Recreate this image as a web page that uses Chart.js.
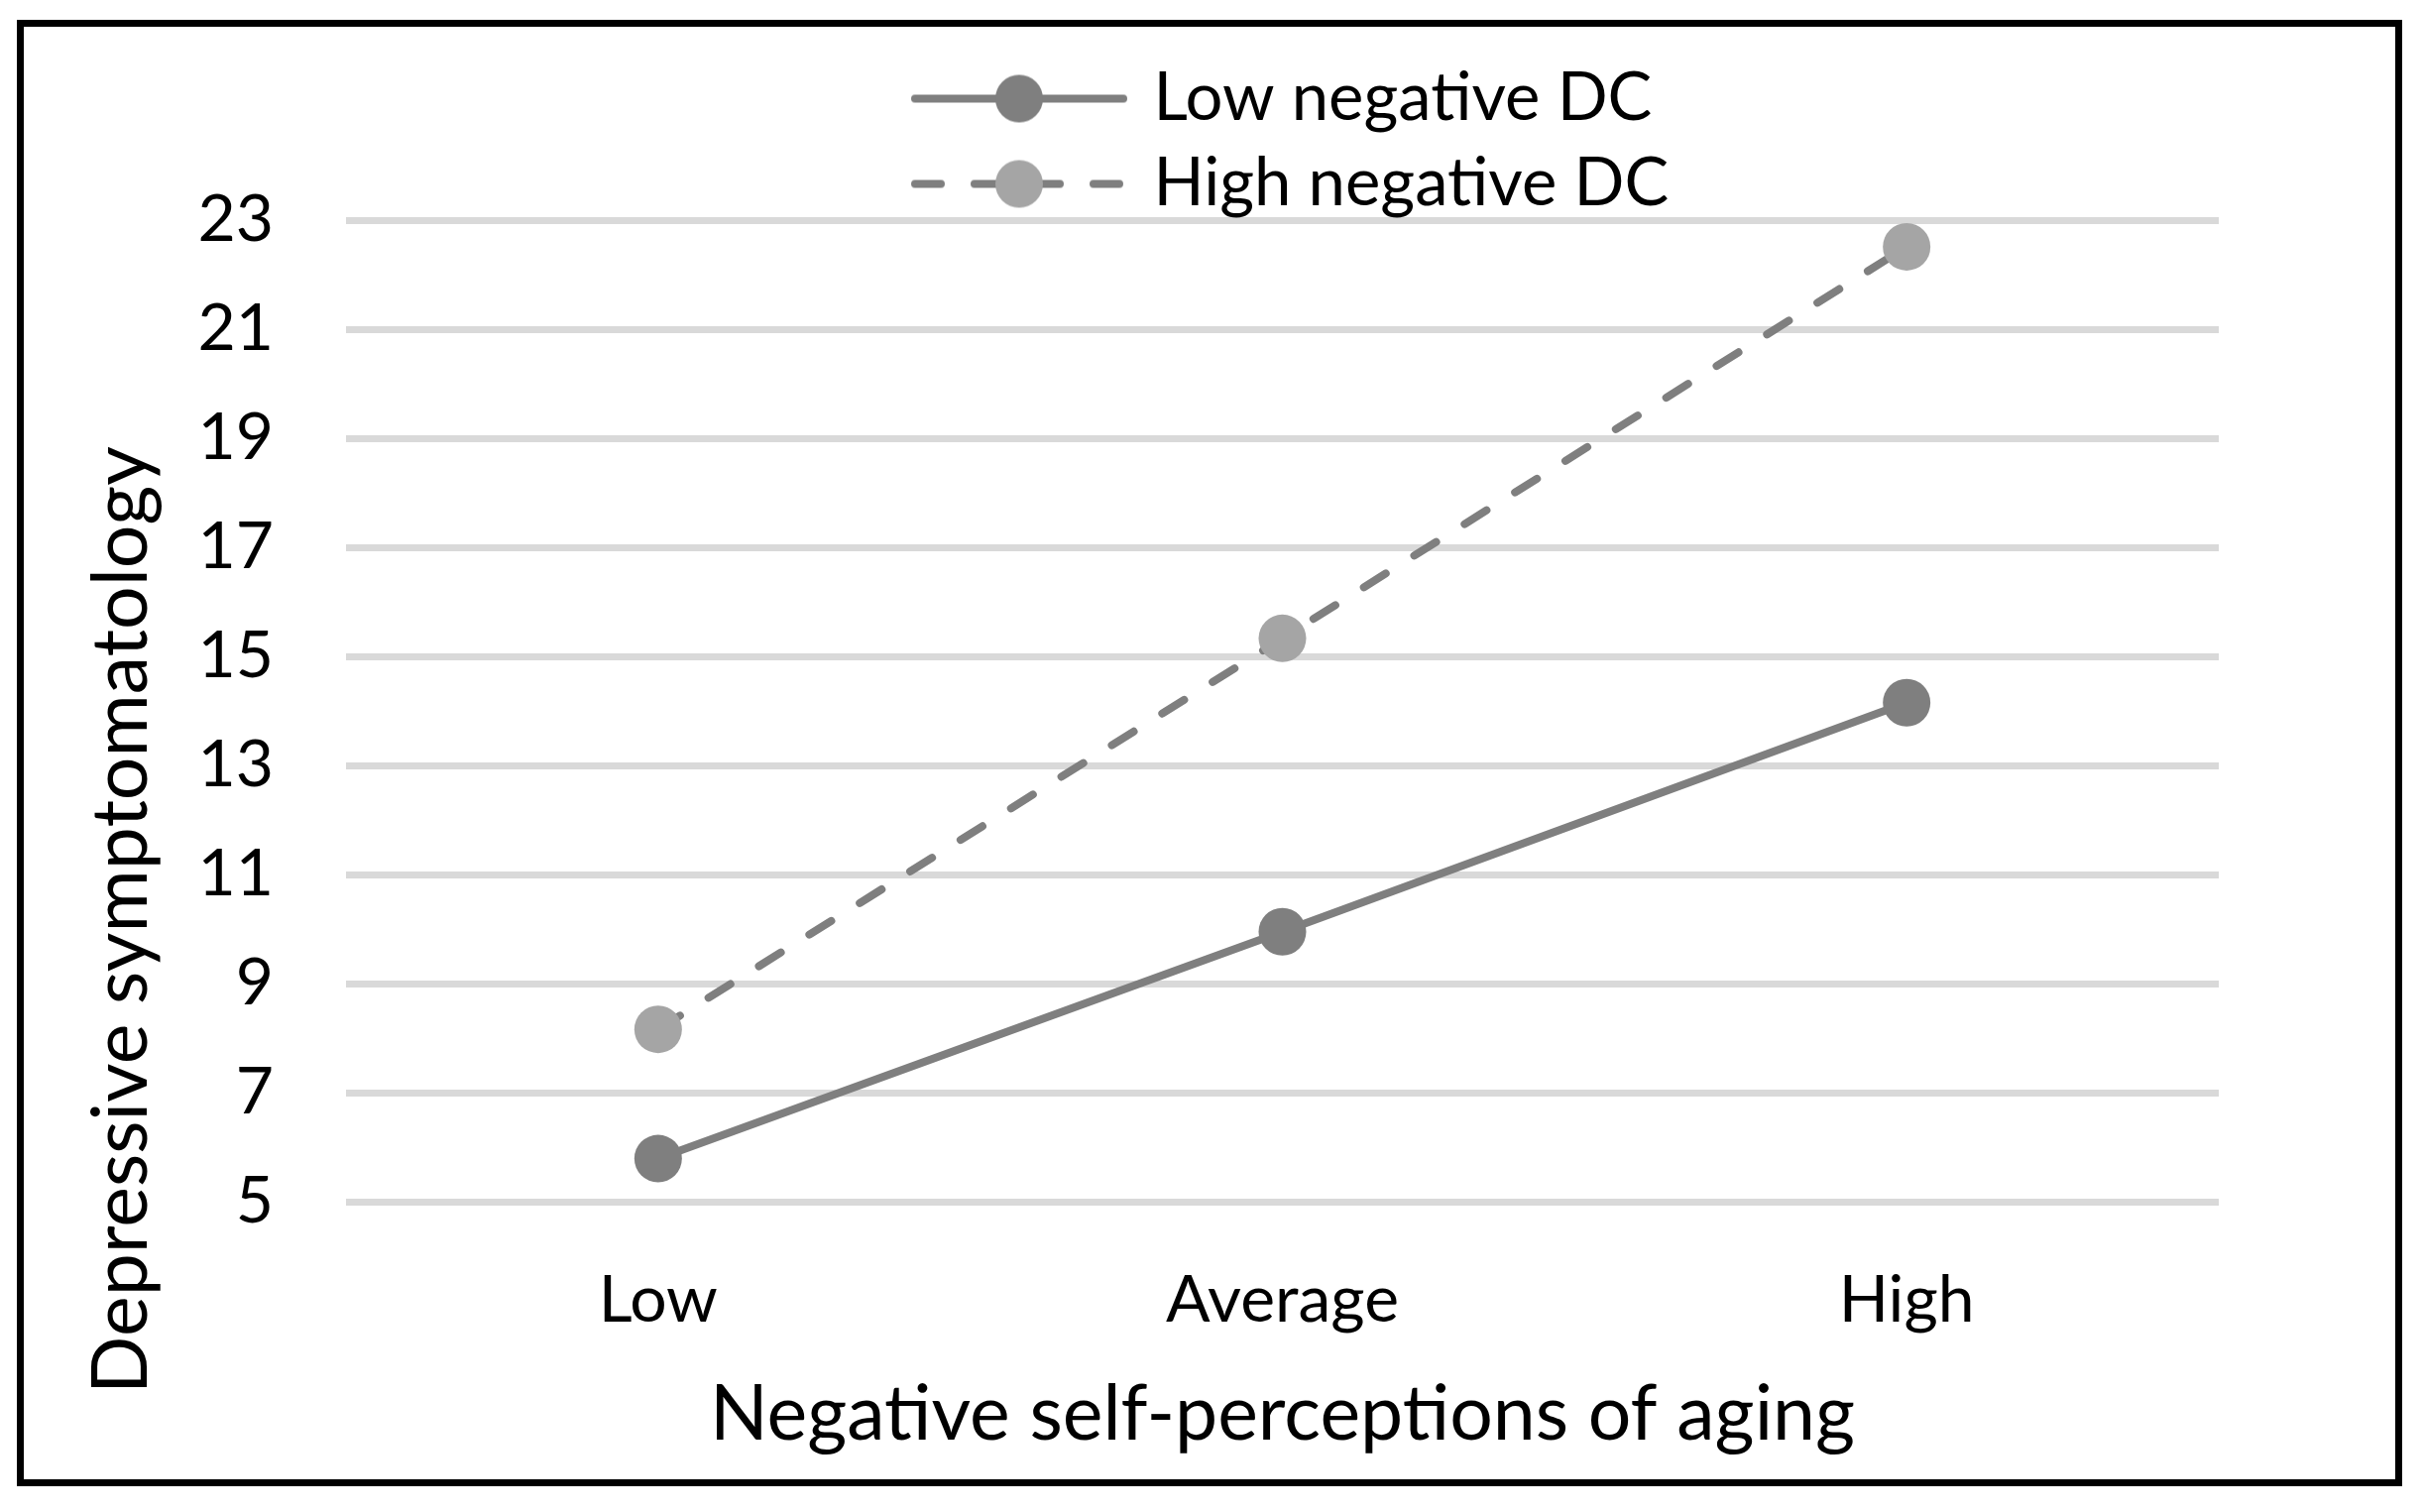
<!DOCTYPE html>
<html><head><meta charset="utf-8">
<script src="https://cdn.jsdelivr.net/npm/chart.js@4/dist/chart.umd.min.js"></script>
<style>html,body{margin:0;padding:0;background:#fff;} canvas{display:block;}</style>
</head><body>
<canvas id="c" width="2444" height="1525" style="width:2444px;height:1525px"></canvas>
<script>
// ---- data ----
const categories = ['Low', 'Average', 'High'];
const lowNegativeDC = [5.79, 9.95, 14.15];
const highNegativeDC = [8.16, 15.33, 22.51];
const seriesNames = ['Low negative DC', 'High negative DC'];
const yTickValues = [5, 7, 9, 11, 13, 15, 17, 19, 21, 23];
const xTitle = 'Negative self-perceptions of aging';
const yTitle = 'Depressive symptomatology';

const FONT = 'Lato, "Noto Sans", sans-serif';
const LINE = '#7f7f7f';
const DARK = '#7f7f7f';
const LIGHT = '#a5a5a5';
const DASH = [26, 34];

function legendImage(dashed, fill) {
  const c = document.createElement('canvas');
  c.width = 218; c.height = 50;
  const g = c.getContext('2d');
  g.strokeStyle = LINE; g.lineWidth = 8; g.lineCap = 'round';
  if (dashed) g.setLineDash(DASH);
  g.beginPath(); g.moveTo(4, 25); g.lineTo(214, 25); g.stroke();
  g.setLineDash([]);
  g.fillStyle = fill; g.beginPath(); g.arc(109, 25, 24, 0, Math.PI * 2); g.fill();
  return c;
}
const legendImages = [legendImage(false, DARK), legendImage(true, LIGHT)];

const framePlugin = {
  id: 'frame',
  beforeLayout(chart) {
    const lg = chart.legend;
    if (lg && !lg._fitPatched) {
      const origFit = lg.fit;
      lg.fit = function () { origFit.call(this); this.height = 222; };
      lg._fitPatched = true;
    }
  },
  afterLayout(chart) {
    const lg = chart.legend;
    if (lg) { lg.left = 907; lg.right = 1807; lg.width = 900; lg.top = 47; lg.bottom = 222; lg.height = 175; }
  },
  beforeDraw(chart) {
    const c = chart.ctx;
    c.save(); c.fillStyle = '#fff'; c.fillRect(0, 0, chart.width, chart.height); c.restore();
  },
  afterDraw(chart) {
    const c = chart.ctx;
    c.save();
    c.lineWidth = 7; c.strokeStyle = '#000';
    c.strokeRect(20.5, 23.5, 2399, 1472);
    c.translate(148, 928); c.rotate(-Math.PI / 2);
    c.font = '77px ' + FONT; c.fillStyle = '#000';
    c.textAlign = 'center'; c.textBaseline = 'alphabetic';
    c.fillText(yTitle, 0, 0);
    c.restore();
  }
};

new Chart(document.getElementById('c').getContext('2d'), {
  type: 'line',
  data: {
    labels: categories,
    datasets: [
      { label: seriesNames[0], data: lowNegativeDC, borderColor: LINE, backgroundColor: DARK, borderWidth: 8,
        pointBackgroundColor: DARK, pointBorderColor: DARK, pointBorderWidth: 0, pointRadius: 24, pointHoverRadius: 24,
        tension: 0, fill: false },
      { label: seriesNames[1], data: highNegativeDC, borderColor: LINE, backgroundColor: LIGHT, borderWidth: 8,
        borderDash: DASH, borderCapStyle: 'round',
        pointBackgroundColor: LIGHT, pointBorderColor: LIGHT, pointBorderWidth: 0, pointRadius: 24, pointHoverRadius: 24,
        tension: 0, fill: false }
    ]
  },
  options: {
    responsive: false, devicePixelRatio: 1, animation: false, events: [],
    layout: { padding: { left: 0, right: 206, top: 0, bottom: 0 } },
    plugins: {
      tooltip: { enabled: false },
      legend: {
        display: true, position: 'top', align: 'start', maxWidth: 900,
        labels: {
          usePointStyle: true, pointStyleWidth: 204, padding: 19, color: '#000',
          font: { family: FONT, size: 67 },
          generateLabels: (chart) => chart.data.datasets.map((ds, i) => ({
            text: ds.label, pointStyle: legendImages[i], fillStyle: ds.pointBackgroundColor,
            strokeStyle: ds.borderColor, lineWidth: 0, hidden: false, datasetIndex: i, fontColor: '#000'
          }))
        }
      }
    },
    scales: {
      x: {
        type: 'category', offset: true,
        grid: { display: false }, border: { display: false },
        ticks: { color: '#000', font: { family: FONT, size: 66 }, padding: 52, maxRotation: 0, autoSkip: false },
        title: { display: true, text: xTitle, color: '#000', font: { family: FONT, size: 77 }, padding: { top: 0, bottom: 52 } },
        afterFit: (s) => { s.height = 313; }
      },
      y: {
        min: yTickValues[0], max: yTickValues[yTickValues.length - 1],
        afterBuildTicks: (s) => { s.ticks = yTickValues.map(v => ({ value: v })); },
        grid: { color: '#d9d9d9', lineWidth: 7, drawTicks: false },
        border: { display: false },
        ticks: { color: '#000', font: { family: FONT, size: 66 }, padding: 73 },
        afterFit: (s) => { s.width = 349; }
      }
    }
  },
  plugins: [framePlugin]
});
</script>
</body></html>
